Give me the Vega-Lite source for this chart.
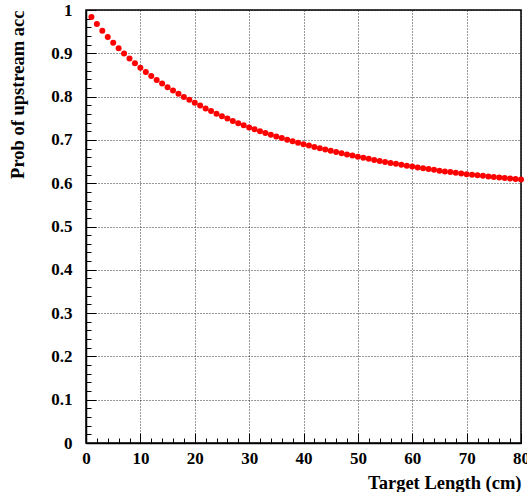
{
  "$schema": "https://vega.github.io/schema/vega-lite/v6.json",
  "autosize": {"type": "none"},
  "width": 435,
  "height": 433,
  "padding": {"left": 86, "top": 10, "right": 6, "bottom": 49},
  "background": "white",
  "config": {
    "view": {"stroke": "#000", "strokeWidth": 1.5},
    "axis": {
      "domainColor": "#000",
      "domainWidth": 1.5,
      "tickColor": "#000",
      "tickWidth": 1,
      "labelFont": "Liberation Serif",
      "labelFontWeight": "bold",
      "labelFontSize": 17,
      "labelColor": "#000",
      "titleFont": "Liberation Serif",
      "titleFontWeight": "bold",
      "titleFontSize": 18.5,
      "titleColor": "#000",
      "gridColor": "#000",
      "gridDash": [1, 2],
      "gridWidth": 1,
      "gridOpacity": 0.8
    }
  },
  "data": {"values": [
    {"x": 1, "p": 0.9836}, {"x": 2, "p": 0.9674}, {"x": 3, "p": 0.9522}, {"x": 4, "p": 0.9378},
    {"x": 5, "p": 0.9243}, {"x": 6, "p": 0.9115}, {"x": 7, "p": 0.8994}, {"x": 8, "p": 0.8879},
    {"x": 9, "p": 0.8771}, {"x": 10, "p": 0.8667}, {"x": 11, "p": 0.8569}, {"x": 12, "p": 0.8475},
    {"x": 13, "p": 0.8385}, {"x": 14, "p": 0.8300}, {"x": 15, "p": 0.8218}, {"x": 16, "p": 0.8140},
    {"x": 17, "p": 0.8065}, {"x": 18, "p": 0.7993}, {"x": 19, "p": 0.7925}, {"x": 20, "p": 0.7858},
    {"x": 21, "p": 0.7792}, {"x": 22, "p": 0.7728}, {"x": 23, "p": 0.7666}, {"x": 24, "p": 0.7606},
    {"x": 25, "p": 0.7549}, {"x": 26, "p": 0.7493}, {"x": 27, "p": 0.7439}, {"x": 28, "p": 0.7387},
    {"x": 29, "p": 0.7337}, {"x": 30, "p": 0.7288}, {"x": 31, "p": 0.7245}, {"x": 32, "p": 0.7201},
    {"x": 33, "p": 0.7159}, {"x": 34, "p": 0.7119}, {"x": 35, "p": 0.7080}, {"x": 36, "p": 0.7042},
    {"x": 37, "p": 0.7005}, {"x": 38, "p": 0.6970}, {"x": 39, "p": 0.6935}, {"x": 40, "p": 0.6901},
    {"x": 41, "p": 0.6869}, {"x": 42, "p": 0.6837}, {"x": 43, "p": 0.6806}, {"x": 44, "p": 0.6776},
    {"x": 45, "p": 0.6747}, {"x": 46, "p": 0.6718}, {"x": 47, "p": 0.6690}, {"x": 48, "p": 0.6663},
    {"x": 49, "p": 0.6637}, {"x": 50, "p": 0.6611}, {"x": 51, "p": 0.6586}, {"x": 52, "p": 0.6562},
    {"x": 53, "p": 0.6538}, {"x": 54, "p": 0.6514}, {"x": 55, "p": 0.6491}, {"x": 56, "p": 0.6469},
    {"x": 57, "p": 0.6447}, {"x": 58, "p": 0.6426}, {"x": 59, "p": 0.6405}, {"x": 60, "p": 0.6385},
    {"x": 61, "p": 0.6365}, {"x": 62, "p": 0.6346}, {"x": 63, "p": 0.6327}, {"x": 64, "p": 0.6308},
    {"x": 65, "p": 0.6290}, {"x": 66, "p": 0.6273}, {"x": 67, "p": 0.6257}, {"x": 68, "p": 0.6240},
    {"x": 69, "p": 0.6225}, {"x": 70, "p": 0.6209}, {"x": 71, "p": 0.6196}, {"x": 72, "p": 0.6182},
    {"x": 73, "p": 0.6170}, {"x": 74, "p": 0.6156}, {"x": 75, "p": 0.6145}, {"x": 76, "p": 0.6132},
    {"x": 77, "p": 0.6121}, {"x": 78, "p": 0.6108}, {"x": 79, "p": 0.6098}, {"x": 80, "p": 0.6086}
  ]},
  "layer": [
    {
      "mark": {"type": "point", "opacity": 0},
      "encoding": {
        "x": {
          "field": "x", "type": "quantitative",
          "scale": {"domain": [0, 80], "nice": false, "zero": false},
          "axis": {
            "orient": "bottom",
            "title": null, "labels": false, "grid": false, "domain": false,
            "values": [0,2,4,6,8,10,12,14,16,18,20,22,24,26,28,30,32,34,36,38,40,42,44,46,48,50,52,54,56,58,60,62,64,66,68,70,72,74,76,78,80],
            "tickSize": 5, "offset": -5
          }
        },
        "y": {
          "field": "p", "type": "quantitative",
          "scale": {"domain": [0, 1], "nice": false, "zero": false},
          "axis": {
            "orient": "left",
            "title": null, "labels": false, "grid": false, "domain": false,
            "values": [0,0.02,0.04,0.06,0.08,0.1,0.12,0.14,0.16,0.18,0.2,0.22,0.24,0.26,0.28,0.3,0.32,0.34,0.36,0.38,0.4,0.42,0.44,0.46,0.48,0.5,0.52,0.54,0.56,0.58,0.6,0.62,0.64,0.66,0.68,0.7,0.72,0.74,0.76,0.78,0.8,0.82,0.84,0.86,0.88,0.9,0.92,0.94,0.96,0.98,1],
            "tickSize": 5, "offset": -5
          }
        }
      }
    },
    {
      "mark": {"type": "point", "opacity": 0},
      "encoding": {
        "x": {
          "field": "x", "type": "quantitative",
          "axis": {
            "orient": "bottom",
            "title": null, "labels": false, "grid": false, "domain": false,
            "values": [0,10,20,30,40,50,60,70,80],
            "tickSize": 10, "offset": -10
          }
        },
        "y": {
          "field": "p", "type": "quantitative",
          "axis": {
            "orient": "left",
            "title": null, "labels": false, "grid": false, "domain": false,
            "values": [0,0.1,0.2,0.3,0.4,0.5,0.6,0.7,0.8,0.9,1],
            "tickSize": 10, "offset": -10
          }
        }
      }
    },
    {
      "mark": {"type": "circle", "color": "#ff0000", "opacity": 1, "size": 36},
      "encoding": {
        "x": {
          "field": "x", "type": "quantitative",
          "axis": {
            "orient": "bottom",
            "title": "Target Length (cm)",
            "values": [0,10,20,30,40,50,60,70,80],
            "format": "d",
            "ticks": false,
            "grid": true,
            "labelFont": "Liberation Serif",
            "labelFontWeight": "bold",
            "labelPadding": 7,
            "labelFlush": false,
            "labelOverlap": false,
            "titleFont": "Liberation Serif",
            "titleAnchor": null,
            "titleX": 435,
            "titleY": 39,
            "titleAlign": "right",
            "titleBaseline": "middle"
          }
        },
        "y": {
          "field": "p", "type": "quantitative",
          "axis": {
            "orient": "left",
            "title": "Prob of upstream acc",
            "values": [0,0.1,0.2,0.3,0.4,0.5,0.6,0.7,0.8,0.9,1],
            "format": ".1~f",
            "ticks": false,
            "grid": true,
            "labelFont": "Liberation Serif",
            "labelFontWeight": "bold",
            "labelPadding": 14,
            "labelFlush": false,
            "labelOverlap": false,
            "titleFont": "Liberation Serif",
            "titleAnchor": null,
            "titleAngle": 270,
            "titleX": -69,
            "titleY": 0,
            "titleAlign": "right",
            "titleBaseline": "middle"
          }
        }
      }
    }
  ],
  "resolve": {"axis": {"x": "independent", "y": "independent"}}
}
